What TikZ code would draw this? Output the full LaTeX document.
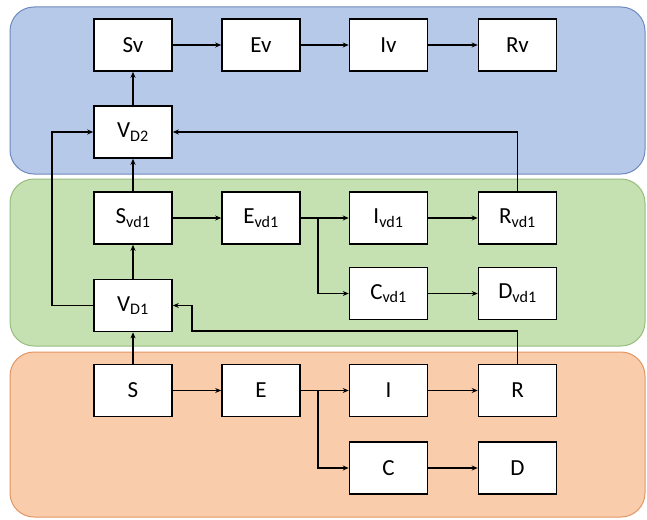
\documentclass[tikz,border=0pt]{standalone}
\usepackage{fontspec}
\setmainfont{Carlito}
\usetikzlibrary{arrows.meta}
\definecolor{bandblue}{RGB}{183,201,232}
\definecolor{bandblueline}{RGB}{110,138,190}
\definecolor{bandgreen}{RGB}{197,225,178}
\definecolor{bandgreenline}{RGB}{150,190,125}
\definecolor{bandorange}{RGB}{249,204,172}
\definecolor{bandorangeline}{RGB}{228,150,100}
\tikzset{
  band/.style={rounded corners=24pt, line width=1pt},
  state/.style={draw=black, fill=white, line width=1.6pt, minimum width=78pt,
    minimum height=52pt, inner sep=0pt, font=\fontsize{23}{26}\selectfont},
  arr/.style={line width=1.5pt, -{Stealth[length=6pt,width=5pt]}},
}
\begin{document}
\begin{tikzpicture}[x=1pt,y=-1pt]
\useasboundingbox (0,0) rectangle (647,519);
% compartments of the three vaccination layers
\draw[band, fill=bandblue, draw=bandblueline] (10,7) rectangle (645,174);
\draw[band, fill=bandgreen, draw=bandgreenline] (10,179) rectangle (645,346);
\draw[band, fill=bandorange, draw=bandorangeline] (10,352) rectangle (645,517);

% second-dose layer
\node[state] (sv) at (133,45) {Sv};
\node[state] (ev) at (261,45) {Ev};
\node[state] (iv) at (388.5,45) {Iv};
\node[state] (rv) at (517.5,45) {Rv};
\node[state] (vd2) at (133,132) {V\textsubscript{D2}};

% first-dose layer
\node[state] (svd1) at (133,218) {S\textsubscript{vd1}};
\node[state] (evd1) at (261,218) {E\textsubscript{vd1}};
\node[state] (ivd1) at (388.5,218) {I\textsubscript{vd1}};
\node[state] (rvd1) at (517.5,218) {R\textsubscript{vd1}};
\node[state] (cvd1) at (388.5,293.5) {C\textsubscript{vd1}};
\node[state] (dvd1) at (517.5,293.5) {D\textsubscript{vd1}};
\node[state] (vd1) at (133,305.5) {V\textsubscript{D1}};

% unvaccinated layer
\node[state] (s) at (133,390.5) {S};
\node[state] (e) at (261,390.5) {E};
\node[state] (i) at (388.5,390.5) {I};
\node[state] (r) at (517.5,390.5) {R};
\node[state] (c) at (388.5,468) {C};
\node[state] (d) at (517.5,468) {D};

\coordinate (rbend) at (192,331);

% transitions
\draw[arr] (sv) -- (ev);
\draw[arr] (ev) -- (iv);
\draw[arr] (iv) -- (rv);
\draw[arr] (vd2) -- (sv);
\draw[arr] (svd1) -- (vd2);
\draw[arr] (vd1.west) -- ++(-41,0) |- (vd2.west);
\draw[arr] (rvd1.north) |- (vd2.east);

\draw[arr] (svd1) -- (evd1);
\draw[arr] (evd1.east) -- (ivd1.west);
\draw[arr] (evd1.east) -- ++(17,0) |- (cvd1.west);
\draw[arr] (ivd1) -- (rvd1);
\draw[arr] (cvd1) -- (dvd1);
\draw[arr] (vd1) -- (svd1);
\draw[arr] (r.north) |- (rbend) |- (vd1.east);

\draw[arr] (s) -- (vd1);
\draw[arr] (s) -- (e);
\draw[arr] (e.east) -- (i.west);
\draw[arr] (e.east) -- ++(17,0) |- (c.west);
\draw[arr] (i) -- (r);
\draw[arr] (c) -- (d);
\end{tikzpicture}
\end{document}
